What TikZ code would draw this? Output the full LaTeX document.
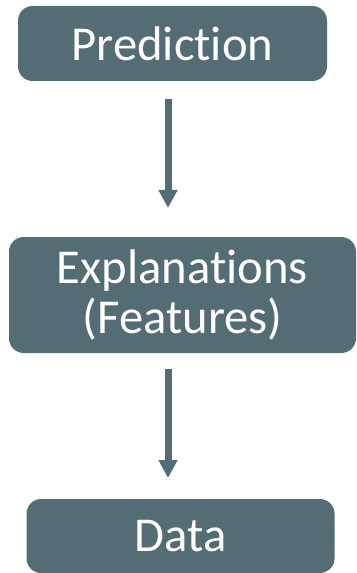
\documentclass[tikz,border=0pt]{standalone}
\usepackage{fontspec}
\setmainfont[Ligatures={NoCommon}]{Carlito}
\usetikzlibrary{arrows.meta}
\definecolor{slate}{HTML}{546D74}
\begin{document}
\begin{tikzpicture}[x=0.75pt,y=-0.75pt,
  box/.style={fill=slate, draw=none, rounded corners=11pt, text=white,
    font=\fontsize{36.5}{37.5}\selectfont, align=center, inner sep=0pt},
  flow/.style={draw=slate, line width=5.25pt,
    -{Triangle[width=13.5pt,length=13.5pt]}}]
  \useasboundingbox (0,0) rectangle (356,573);
  \node[box, minimum width=231.75pt, minimum height=56.25pt] (pred) at (172.5,43.5) {Prediction};
  \node[box, minimum width=260.25pt, minimum height=87pt] (expl) at (182.5,295) {Explanations\\(Features)};
  \node[box, minimum width=231pt, minimum height=55.5pt] (data) at (180.5,536) {Data};
  \coordinate (a1s) at (168,99);
  \coordinate (a1e) at (168,208);
  \coordinate (a2s) at (168,369);
  \coordinate (a2e) at (168,478);
  \draw[flow] (a1s) -- (a1e);
  \draw[flow] (a2s) -- (a2e);
\end{tikzpicture}
\end{document}
